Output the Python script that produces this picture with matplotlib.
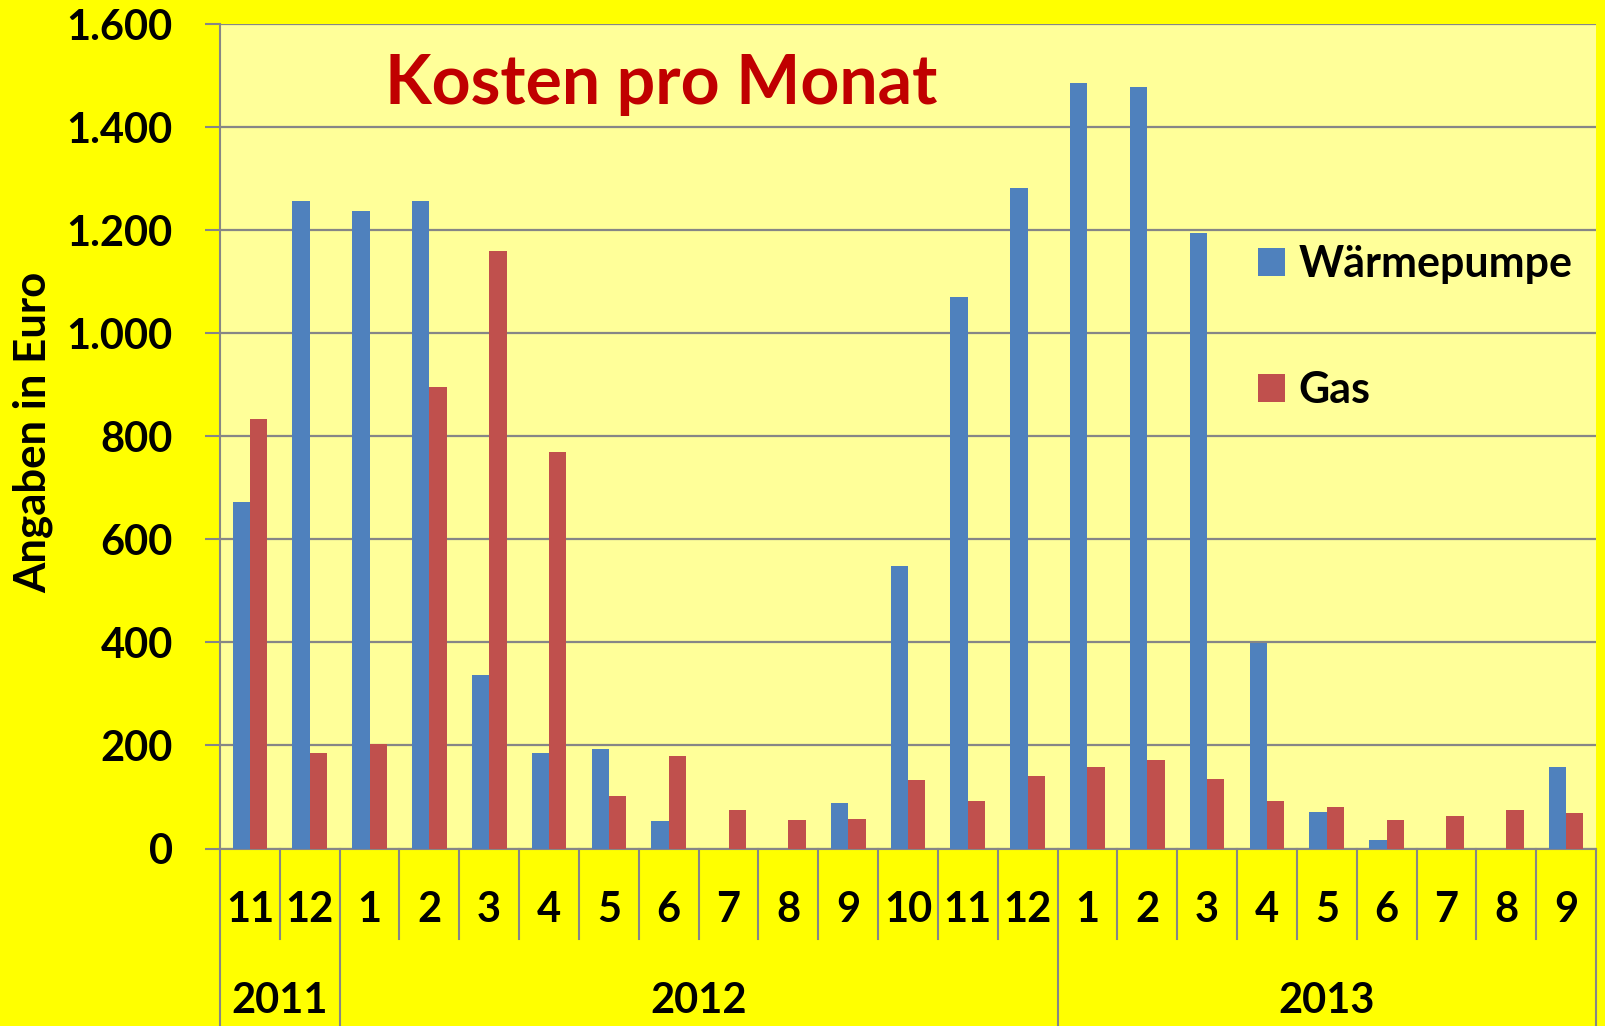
import matplotlib.pyplot as plt
import matplotlib.transforms as mtransforms
from matplotlib.ticker import FuncFormatter

months = ["11", "12", "1", "2", "3", "4", "5", "6", "7", "8", "9", "10", "11", "12",
          "1", "2", "3", "4", "5", "6", "7", "8", "9"]
years = ["2011", "2012", "2013"]
year_counts = [2, 12, 9]

waermepumpe = [672, 1257, 1238, 1257, 336, 185, 194, 53, 0, 0, 88, 548, 1070, 1282,
               1486, 1478, 1194, 398, 70, 17, 0, 0, 159]
gas = [834, 185, 202, 895, 1160, 769, 101, 180, 74, 55, 57, 133, 92, 140,
       159, 171, 134, 92, 81, 55, 64, 74, 68]

plt.rcParams['font.family'] = ['Lato', 'DejaVu Sans']
wt = 'bold'

W, H = 1605, 1026
fig = plt.figure(figsize=(W / 100, H / 100), dpi=100, facecolor='#FFFF00')
x0, x1, ytop, ybot = 220, 1596, 24.3, 848.5
ax = fig.add_axes([x0 / W, (H - ybot) / H, (x1 - x0) / W, (ybot - ytop) / H])
ax.set_facecolor('#FFFF99')

n = len(months)
xs = list(range(n))
bw = 0.29
ax.bar([x - bw / 2 for x in xs], waermepumpe, bw, color='#4F81BD', label='Wärmepumpe', zorder=3)
ax.bar([x + bw / 2 for x in xs], gas, bw, color='#C0504D', label='Gas', zorder=3)

ax.set_xlim(-0.5, n - 0.5)
ax.set_ylim(0, 1600)
ax.set_yticks(range(0, 1601, 200))
ax.yaxis.set_major_formatter(FuncFormatter(lambda v, p: f"{int(v):,}".replace(",", ".")))
ax.tick_params(axis='y', direction='out', length=11, width=1.5, color='#868686',
               labelsize=30, pad=23)
ax.set_xticks([])
for lab in ax.get_yticklabels():
    lab.set_fontweight(wt)
ax.grid(axis='y', color='#868686', linewidth=1.6, zorder=1)
for s in ['top', 'right']:
    ax.spines[s].set_visible(False)
ax.spines['left'].set_color('#868686')
ax.spines['left'].set_linewidth(1.5)
ax.spines['bottom'].set_color('#868686')
ax.spines['bottom'].set_linewidth(1.5)

ax.set_ylabel('Angaben in Euro', fontsize=31.5, fontweight=wt)
ax.yaxis.set_label_coords((53 - x0) / (x1 - x0), 0.505)

# two-level category axis
trans = mtransforms.blended_transform_factory(ax.transData, ax.transAxes)
axh = ybot - ytop
month_bottom = -(939 - ybot) / axh
fig_bottom = -(H - ybot) / axh
bounds = [-0.5]
for c in year_counts:
    bounds.append(bounds[-1] + c)
for k in range(n + 1):
    xb = k - 0.5
    low = fig_bottom if xb in bounds else month_bottom
    ax.plot([xb, xb], [0, low], transform=trans, color='#868686', lw=1.5, clip_on=False)
for i, m in enumerate(months):
    ax.text(i, -(910 - ybot) / axh, m, transform=trans, ha='center', va='center',
            fontsize=30, fontweight=wt)
for j, y in enumerate(years):
    xc = (bounds[j] + bounds[j + 1]) / 2
    ax.text(xc, -(1001 - ybot) / axh, y, transform=trans, ha='center', va='center',
            fontsize=30, fontweight=wt)

fig.text(661 / W, 1 - 84 / H, 'Kosten pro Monat', ha='center', va='center',
         fontsize=49, fontweight=wt, color='#C00000')

ax.legend(loc='upper left', bbox_to_anchor=((1219 - x0) / (x1 - x0), (ybot - 205) / axh),
          frameon=False, prop={'size': 31, 'weight': wt}, handlelength=0.63, handleheight=0.63,
          handletextpad=0.32, labelspacing=2.0)

fig.savefig('out.png', dpi=100, facecolor=fig.get_facecolor())
